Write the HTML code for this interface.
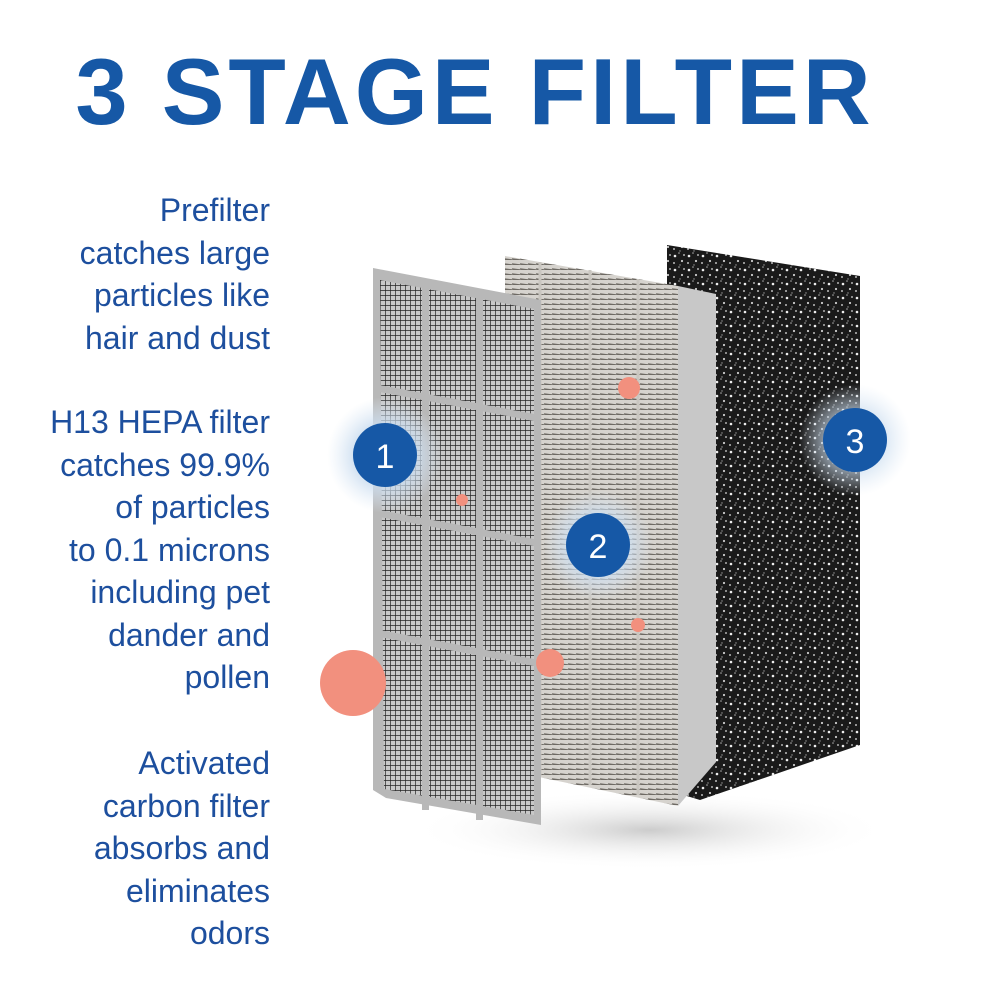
<!DOCTYPE html>
<html><head><meta charset="utf-8"><style>
body{margin:0;background:#fff;width:1000px;height:1000px;overflow:hidden;position:relative;font-family:"Liberation Sans",sans-serif}
h1{position:absolute;left:0;width:950px;top:38px;margin:0;text-align:center;font-size:94px;font-weight:bold;color:#1658a6;letter-spacing:4px}
.t{position:absolute;right:730px;text-align:right;color:#1d4f9e;font-size:32px;line-height:42.5px}
</style></head><body>
<h1>3 STAGE FILTER</h1>
<div class="t" style="top:189px">Prefilter<br>catches large<br>particles like<br>hair and dust</div>
<div class="t" style="top:401px">H13 HEPA filter<br>catches 99.9%<br>of particles<br>to 0.1 microns<br>including pet<br>dander and<br>pollen</div>
<div class="t" style="top:742px">Activated<br>carbon filter<br>absorbs and<br>eliminates<br>odors</div>
<svg width="1000" height="1000" style="position:absolute;left:0;top:0">
<defs>
<pattern id="g" width="5" height="5" patternUnits="userSpaceOnUse"><rect width="5" height="5" fill="#c8c8c8"/><path d="M0 0H5M0 0V5" stroke="#222" stroke-width="1.4"/></pattern>
<pattern id="h" width="8" height="5" patternUnits="userSpaceOnUse"><rect width="8" height="5" fill="#d6d3ce"/><path d="M0 4L8 5" stroke="#6e6a64" stroke-width="1.6"/></pattern>
<pattern id="c" width="14" height="14" patternUnits="userSpaceOnUse"><rect width="14" height="14" fill="#1a1a1a"/><circle cx="3" cy="4" r="1.3" fill="#eee"/><circle cx="10" cy="9" r="1.1" fill="#ccc"/><circle cx="7" cy="1" r="0.8" fill="#aaa"/><circle cx="12" cy="3" r="0.9" fill="#ddd"/><circle cx="2" cy="11" r="1" fill="#bbb"/><circle cx="8" cy="13" r="0.7" fill="#999"/></pattern>
<radialGradient id="sh"><stop offset="0" stop-color="#ccc"/><stop offset="1" stop-color="#fff" stop-opacity="0"/></radialGradient>
<radialGradient id="halo"><stop offset="0.5" stop-color="#c9dcef" stop-opacity="0.9"/><stop offset="1" stop-color="#dfeaf6" stop-opacity="0"/></radialGradient>
</defs>
<ellipse cx="650" cy="830" rx="240" ry="40" fill="url(#sh)"/>
<polygon points="667,245 860,276 860,745 700,800 667,790" fill="url(#c)"/>
<polygon points="678,286 716,294 716,762 678,806" fill="#c8c8c8"/>
<polygon points="505,256 678,286 678,806 505,770" fill="url(#h)"/>
<g stroke="#c9c6c0" stroke-width="3"><line x1="540" y1="262" x2="540" y2="776"/><line x1="590" y1="270" x2="590" y2="785"/><line x1="638" y1="279" x2="638" y2="795"/></g>
<polygon points="373,268 541,300 541,825 386,798 373,790" fill="#b8b8b8"/>
<polygon points="380,280 534,309 534,815 384,789" fill="url(#g)"/>
<g fill="#b8b8b8">
<rect x="422" y="280" width="7" height="530"/>
<rect x="476" y="290" width="7" height="530"/>
<polygon points="380,385 534,414 534,421 380,392"/>
<polygon points="380,510 534,539 534,546 380,517"/>
<polygon points="380,630 534,659 534,666 380,637"/>
</g>
<g fill="#f2907e"><circle cx="629" cy="388" r="11"/><circle cx="462" cy="500" r="6"/><circle cx="638" cy="625" r="7"/><circle cx="550" cy="663" r="14"/><circle cx="353" cy="683" r="33"/></g>
<circle cx="385" cy="455" r="58" fill="url(#halo)"/>
<circle cx="385" cy="455" r="32" fill="#1658a6"/>
<text x="385" y="468" text-anchor="middle" fill="#fff" font-size="34" font-family="Liberation Sans">1</text>
<circle cx="598" cy="545" r="55" fill="url(#halo)"/>
<circle cx="598" cy="545" r="32" fill="#1658a6"/>
<text x="598" y="558" text-anchor="middle" fill="#fff" font-size="34" font-family="Liberation Sans">2</text>
<circle cx="855" cy="440" r="56" fill="url(#halo)" opacity="0.8"/>
<circle cx="855" cy="440" r="32" fill="#1658a6"/>
<text x="855" y="453" text-anchor="middle" fill="#fff" font-size="34" font-family="Liberation Sans">3</text>
</svg>
</body></html>
